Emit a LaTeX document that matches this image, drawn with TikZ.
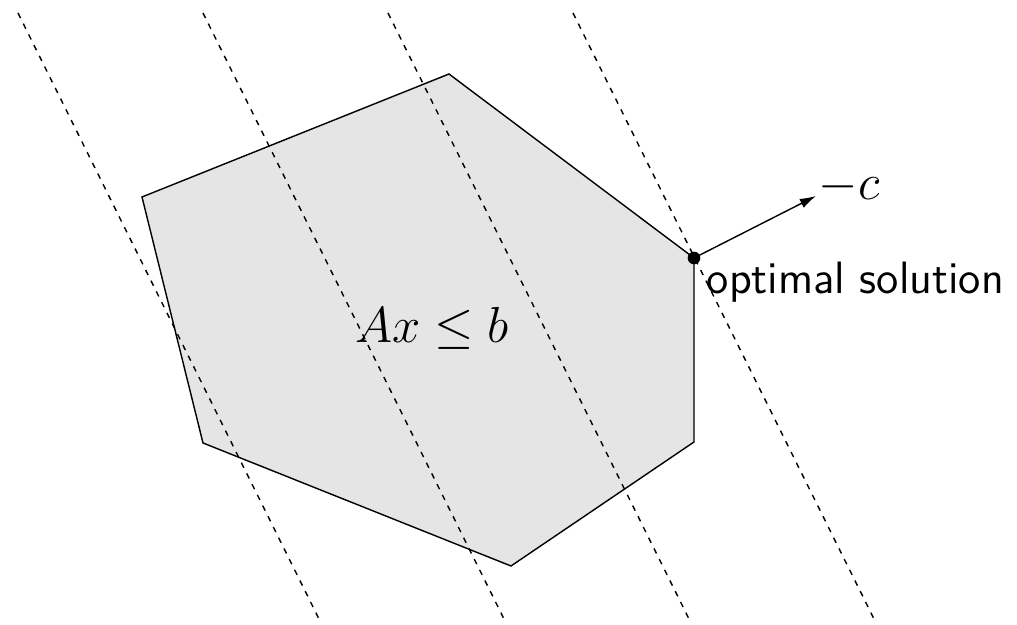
\documentclass[tikz,border=0pt]{standalone}
\usepackage{amsmath,amssymb}
\usepackage{xcolor}
\usepackage{tikz}
\usetikzlibrary{calc,arrows.meta,positioning}
\definecolor{regionc}{HTML}{E5E5E5}
\tikzset{
  ar/.style={-{Latex[length=4.6pt,width=2.8pt]},thin,black},
  level/.style={black,thin,dash pattern=on 1.6pt off 1.8pt},
  region/.style={draw=black,thin,fill=regionc},
  lbl/.style={font=\fontsize{15.6}{18}\selectfont,inner sep=0pt},
  txt/.style={font=\sffamily\fontsize{12.9}{15}\selectfont,inner sep=2.6pt}
}
\begin{document}
\begin{tikzpicture}[x=0.01cm,y=-0.01cm]
\useasboundingbox (0,0) rectangle (1017,625);
% feasible region
\draw[region] (142,197)--(449,74)--(694,258)--(694,442)--(511,566)--(203,443)--cycle;
\node[lbl] (feas) at (432,328) {$Ax \leq b$};
% level sets of the objective
\foreach \k in {0,1,2,3}{\draw[level] (18+185*\k,13)--(321+185*\k,623);}
% optimum and direction
\coordinate (opt) at (694,258);
\coordinate (tip) at (816,196);
\draw[ar] (opt)--(tip);
\fill (opt) circle (1.8pt);
\node[lbl,anchor=west] (negc) at ($(tip)+(2,-9)$) {$-c$};
\node[txt,anchor=north west] (optlab) at ($(opt)+(3,-6)$) {optimal solution};
\end{tikzpicture}
\end{document}
